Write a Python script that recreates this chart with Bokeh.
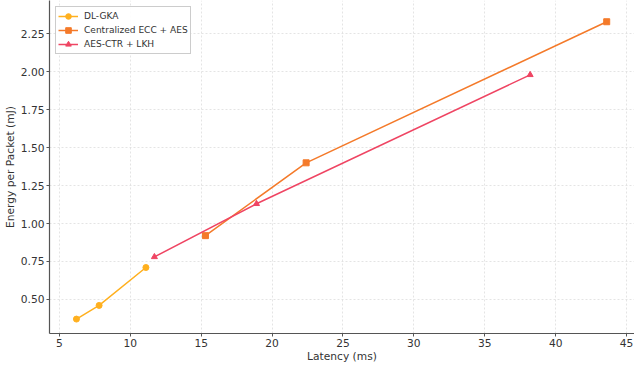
from bokeh.plotting import figure
from bokeh.models import Range1d, Legend, LegendItem, FixedTicker, CustomJSTickFormatter
from bokeh.embed import file_html
from bokeh.resources import INLINE

dl_x = [6.2, 7.8, 11.1]
dl_y = [0.37, 0.46, 0.71]
ce_x = [15.3, 22.4, 43.6]
ce_y = [0.92, 1.40, 2.33]
ae_x = [11.7, 18.9, 38.2]
ae_y = [0.78, 1.13, 1.98]
x_ticks = [5, 10, 15, 20, 25, 30, 35, 40, 45]
y_ticks = [0.50, 0.75, 1.00, 1.25, 1.50, 1.75, 2.00, 2.25]

FONT = "DejaVu Sans"
p = figure(width=634, height=365, output_backend="svg", toolbar_location=None,
           x_range=Range1d(4.3, 45.56), y_range=Range1d(0.275, 2.47),
           min_border_left=10, min_border_bottom=5, min_border_top=0, min_border_right=0)
p.outline_line_color = None
p.background_fill_color = "white"

c1, c2, c3 = "#FFB01F", "#F47A2A", "#EF4563"
l1 = p.line(dl_x, dl_y, line_color=c1, line_width=1.5)
m1 = p.scatter(dl_x, dl_y, marker="circle", size=6, fill_color=c1, line_color=c1)
l2 = p.line(ce_x, ce_y, line_color=c2, line_width=1.5)
m2 = p.scatter(ce_x, ce_y, marker="square", size=6, fill_color=c2, line_color=c2)
l3 = p.line(ae_x, ae_y, line_color=c3, line_width=1.5)
m3 = p.scatter(ae_x, ae_y, marker="triangle", size=6, fill_color=c3, line_color=c3)

legend = Legend(items=[
    LegendItem(label="DL-GKA", renderers=[l1, m1]),
    LegendItem(label="Centralized ECC + AES", renderers=[l2, m2]),
    LegendItem(label="AES-CTR + LKH", renderers=[l3, m3]),
], location="top_left")
legend.label_text_font = FONT
legend.label_text_font_size = "6.8pt"
legend.label_text_color = "#333333"
legend.glyph_height = 14
legend.glyph_width = 20
legend.label_height = 14
legend.label_standoff = 6
legend.spacing = 0
legend.padding = 2
legend.margin = 6
legend.border_line_color = "#cccccc"
legend.border_line_alpha = 1
legend.background_fill_alpha = 0.9
p.add_layout(legend)

p.xaxis.ticker = FixedTicker(ticks=x_ticks)
p.yaxis.ticker = FixedTicker(ticks=y_ticks)
p.yaxis.formatter = CustomJSTickFormatter(code="return tick.toFixed(2);")
p.xaxis.axis_label = "Latency (ms)"
p.yaxis.axis_label = "Energy per Packet (mJ)"
for ax in (p.xaxis, p.yaxis):
    ax.axis_label_text_font = FONT
    ax.axis_label_text_font_size = "8pt"
    ax.axis_label_text_font_style = "normal"
    ax.axis_label_text_color = "#333333"
    ax.major_label_text_font = FONT
    ax.major_label_text_font_size = "8pt"
    ax.major_label_text_color = "#333333"
    ax.axis_line_color = "#555555"
    ax.axis_line_width = 1.2
    ax.major_tick_line_color = "#555555"
    ax.major_tick_out = 3
    ax.major_tick_in = 0
    ax.minor_tick_line_color = None
    ax.axis_label_standoff = 1
    ax.major_label_standoff = 2
p.xaxis.axis_label_standoff = 0
p.grid.grid_line_color = "#dddddd"
p.grid.grid_line_dash = "2 2"
p.grid.grid_line_width = 0.8

open("out.html", "w").write(file_html(p, INLINE))
